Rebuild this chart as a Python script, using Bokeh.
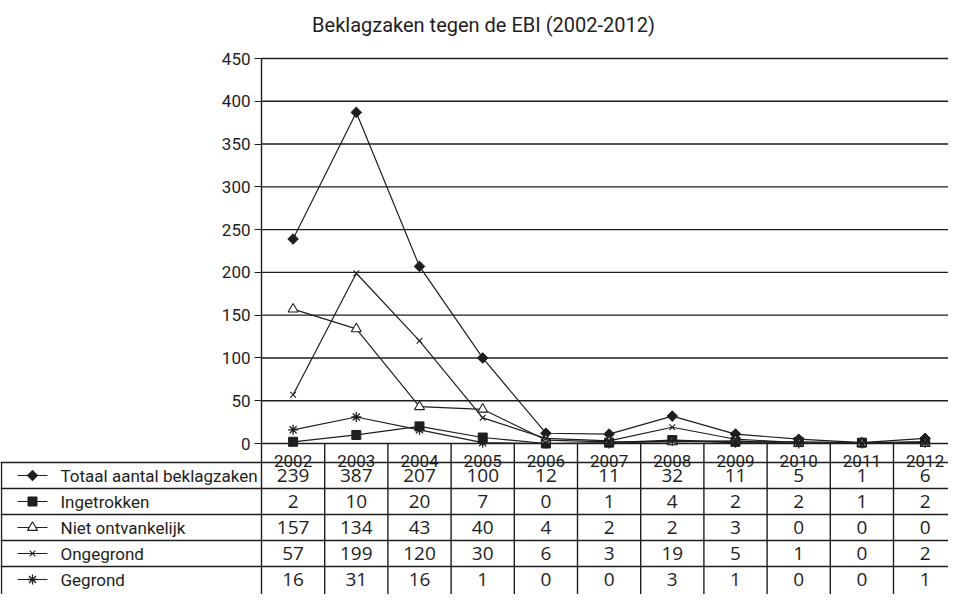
import numpy as np
from bokeh.plotting import figure
from bokeh.models import Range1d, FixedTicker, LinearAxis
from bokeh.core.properties import value
from bokeh.embed import file_html
from bokeh.resources import INLINE

# ---------------- data ----------------
years = ["2002", "2003", "2004", "2005", "2006", "2007", "2008", "2009", "2010", "2011", "2012"]
series_names = ["Totaal aantal beklagzaken", "Ingetrokken", "Niet ontvankelijk", "Ongegrond", "Gegrond"]
totaal = [239, 387, 207, 100, 12, 11, 32, 11, 5, 1, 6]
ingetrokken = [2, 10, 20, 7, 0, 1, 4, 2, 2, 1, 2]
niet_ontvankelijk = [157, 134, 43, 40, 4, 2, 2, 3, 0, 0, 0]
ongegrond = [57, 199, 120, 30, 6, 3, 19, 5, 1, 0, 2]
gegrond = [16, 31, 16, 1, 0, 0, 3, 1, 0, 0, 1]
y_ticks = [0, 50, 100, 150, 200, 250, 300, 350, 400, 450]
title_text = "Beklagzaken tegen de EBI (2002-2012)"

series = [totaal, ingetrokken, niet_ontvankelijk, ongegrond, gegrond]

# ---------------- styles / geometry ----------------
NARROW = "Roboto"
NUMF = "Open Sans"
INK = "#1e1e1e"
marker_styles = [
    dict(marker="square", angle=np.pi / 4, size=7.5, fill_color=INK, line_color=INK, line_width=1),
    dict(marker="square", angle=0.0, size=9, fill_color=INK, line_color=INK, line_width=1),
    dict(marker="triangle", angle=0.0, size=10, fill_color="white", line_color=INK, line_width=1.1),
    dict(marker="x", angle=0.0, size=8, fill_color=INK, line_color=INK, line_width=1.1),
    dict(marker="asterisk", angle=0.0, size=10, fill_color=INK, line_color=INK, line_width=1.3),
]

W, H = 948, 594
COL = 63.2            # px per year column
LABEL_W = 261         # px of label column (left of the axis)
TOP_PX = 58           # canvas y of value 450
ZERO_PX = 443         # canvas y of value 0
PX = (ZERO_PX - TOP_PX) / 450   # px per value unit
HEADER_BOT = 462      # canvas y of the line under the year labels
ROW_H = 26


def ydata(canvas_y):
    return (ZERO_PX - canvas_y) / PX


def xdata(canvas_x):
    return x_start + canvas_x / COL


x_start = -0.5 - LABEL_W / COL
x_end = x_start + W / COL
y_top = ydata(0)
y_bot = ydata(H)
idx = list(range(len(years)))

p = figure(width=W, height=H, x_range=Range1d(x_start, x_end), y_range=Range1d(y_bot, y_top),
           min_border=0, min_border_left=0, min_border_right=0, min_border_top=0, min_border_bottom=0,
           toolbar_location=None, output_backend="svg", title=None,
           x_axis_location=None, y_axis_location=None,
           outline_line_color=None, background_fill_color="white", border_fill_color="white")
p.grid.visible = False

# ---- title ----
p.text(x=[xdata(483)], y=[ydata(24)], text=[title_text], text_align="center", text_baseline="middle",
       text_font=value(NARROW), text_font_size="20px", text_color=INK)

# ---- value axis, fixed at the left edge of the 2002 column ----
yax = LinearAxis(fixed_location=-0.5, ticker=FixedTicker(ticks=y_ticks), bounds=(y_bot, 450))
yax.major_tick_out = 7
yax.major_tick_in = 0
yax.minor_tick_line_color = None
yax.major_tick_line_color = INK
yax.major_tick_line_width = 1.2
yax.axis_line_color = INK
yax.axis_line_width = 1.4
yax.major_label_text_font = NARROW
yax.major_label_text_font_size = "17px"
yax.major_label_text_color = INK
yax.major_label_standoff = 4
p.add_layout(yax, "left")

# ---- horizontal grid lines at the ticks ----
p.segment(x0=[-0.5] * len(y_ticks), y0=y_ticks, x1=[x_end] * len(y_ticks), y1=y_ticks,
          line_color=INK, line_width=1.4)

# ---- series ----
for vals, ms in zip(series, marker_styles):
    p.line(idx, vals, line_color=INK, line_width=1.2)
    p.scatter(idx, vals, **ms)

# ---------------- data table ----------------
vx = [k + 0.5 for k in range(len(years))]
p.segment(x0=vx, y0=[0] * len(vx), x1=vx, y1=[y_bot] * len(vx), line_color=INK, line_width=1.4)
lb = xdata(1.0)
p.segment(x0=[lb], y0=[ydata(HEADER_BOT)], x1=[lb], y1=[y_bot], line_color=INK, line_width=1.4)
hy = [ydata(HEADER_BOT + ROW_H * i) for i in range(len(series))]
p.segment(x0=[x_start] * len(hy), y0=hy, x1=[x_end] * len(hy), y1=hy, line_color=INK, line_width=1.4)

# year labels
p.text(x=idx, y=[ydata(HEADER_BOT - 1.5)] * len(idx), text=years, text_align="center",
       text_baseline="alphabetic", text_font=value(NARROW), text_font_size="17px", text_color=INK)

for i, (name, vals, ms) in enumerate(zip(series_names, series, marker_styles)):
    yc = ydata(HEADER_BOT + ROW_H * (i + 0.5))
    p.text(x=idx, y=[yc] * len(idx), text=[str(v) for v in vals], text_align="center",
           text_baseline="middle", text_font=value(NUMF), text_font_size="19px", text_color=INK)
    p.line([xdata(17), xdata(47)], [yc, yc], line_color=INK, line_width=1.2)
    p.scatter([xdata(32)], [yc], **ms)
    p.text(x=[xdata(60)], y=[yc], text=[name], text_align="left", text_baseline="middle",
           text_font=value(NARROW), text_font_size="17px", text_color=INK)

open("out.html", "w").write(file_html(p, INLINE))
